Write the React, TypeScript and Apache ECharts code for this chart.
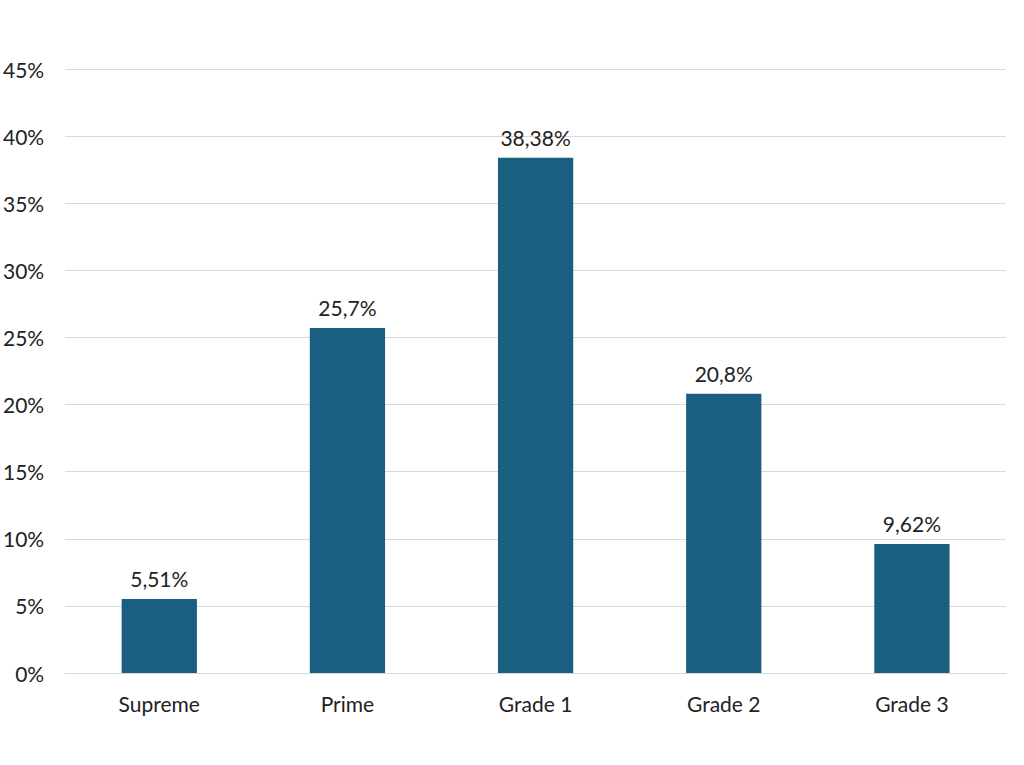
import React, { useEffect, useRef } from "react";
import * as echarts from "echarts";

const categories = ["Supreme", "Prime", "Grade 1", "Grade 2", "Grade 3"];
const values = [5.51, 25.7, 38.38, 20.8, 9.62];
const valueLabels = ["5,51%", "25,7%", "38,38%", "20,8%", "9,62%"];

export default function App() {
  const ref = useRef<HTMLDivElement>(null);
  useEffect(() => {
    document.body.style.margin = "0";
    const chart = echarts.init(ref.current!, null, { renderer: "svg" });
    const font = "Lato, 'Open Sans', sans-serif";
    chart.setOption({
      animation: false,
      backgroundColor: "#ffffff",
      grid: { left: 65, right: 18, top: 69, bottom: 92, containLabel: false },
      xAxis: {
        type: "category",
        data: categories,
        axisLine: { show: true, lineStyle: { color: "#d9d9d9", width: 1 } },
        axisTick: { show: false },
        axisLabel: { color: "#222", fontSize: 21, fontFamily: font, margin: 20 },
      },
      yAxis: {
        type: "value",
        min: 0,
        max: 45,
        interval: 5,
        axisLine: { show: false },
        axisTick: { show: false },
        splitLine: { lineStyle: { color: "#d9d9d9", width: 1 } },
        axisLabel: {
          color: "#222",
          fontSize: 21,
          fontFamily: font,
          margin: 21,
          formatter: (v: number) => v + "%",
        },
      },
      series: [
        {
          type: "bar",
          data: values,
          barWidth: "40%",
          itemStyle: { color: "#1a5e80" },
          label: {
            show: true,
            position: "top",
            distance: 10,
            color: "#222",
            fontSize: 21,
            fontFamily: font,
            formatter: (p: any) => valueLabels[p.dataIndex],
          },
        },
      ],
    });
    return () => chart.dispose();
  }, []);
  return <div ref={ref} style={{ width: 1024, height: 765 }} />;
}
